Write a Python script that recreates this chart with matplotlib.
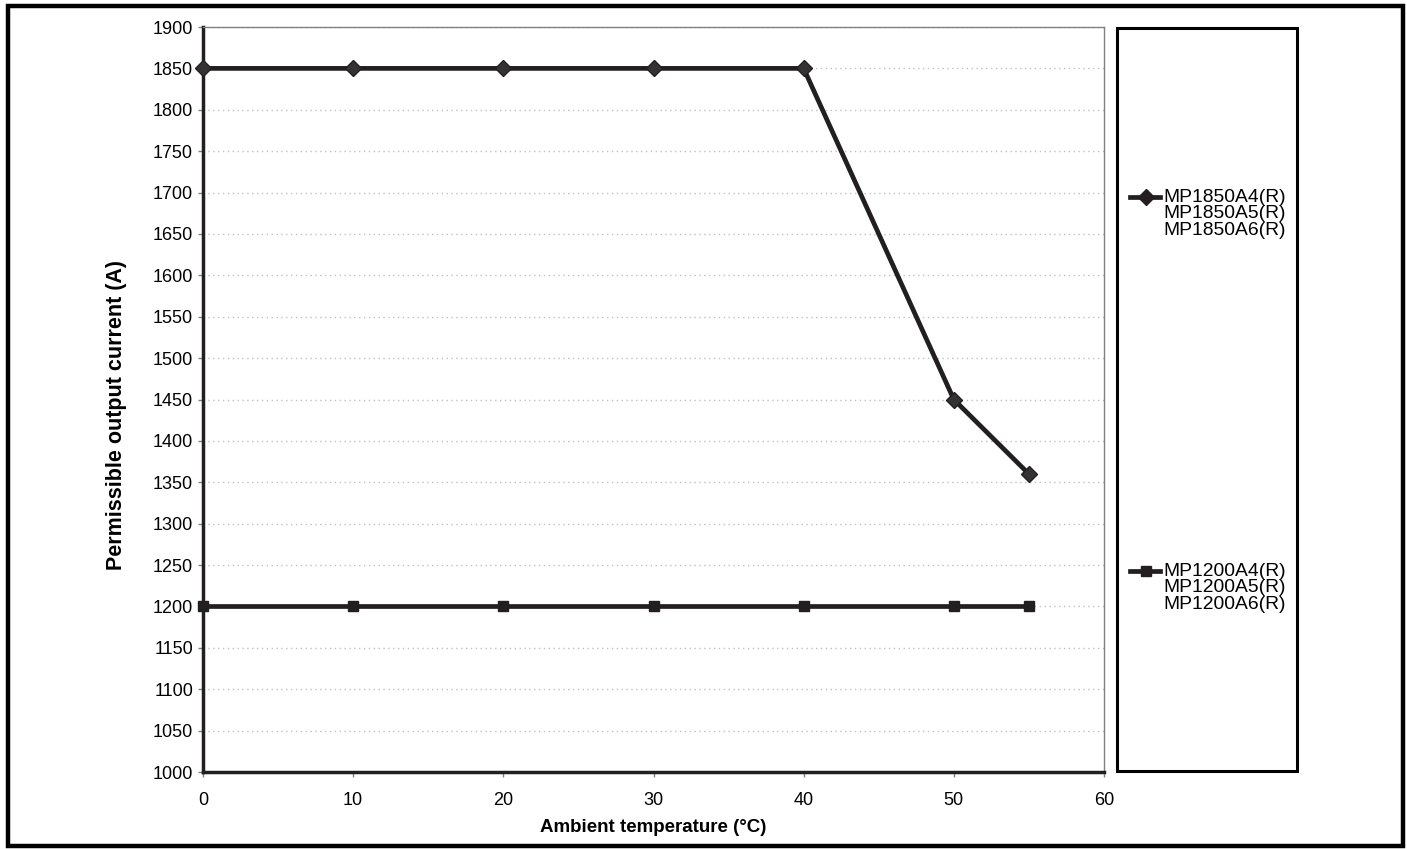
import numpy as np
import matplotlib
matplotlib.use("Agg")
import matplotlib.pyplot as plt
from matplotlib.lines import Line2D
from matplotlib.patches import Rectangle

plt.rcParams['font.family'] = ['Liberation Sans', 'DejaVu Sans']

# data
temps = [0, 10, 20, 30, 40, 50, 55]
current_1850 = [1850, 1850, 1850, 1850, 1850, 1450, 1360]
current_1200 = [1200, 1200, 1200, 1200, 1200, 1200, 1200]
labels_1850 = ['MP1850A4(R)', 'MP1850A5(R)', 'MP1850A6(R)']
labels_1200 = ['MP1200A4(R)', 'MP1200A5(R)', 'MP1200A6(R)']
xticks = range(0, 61, 10)
yticks = range(1000, 1901, 50)

W, H = 1407, 849
fig = plt.figure(figsize=(W / 100, H / 100), dpi=100)
ax = fig.add_axes([203 / W, 1 - 772 / H, (1104 - 203) / W, (772 - 27) / H])

dark = '#231f20'
ax.plot(temps, current_1850, color=dark, lw=3.4, marker='D', ms=8.5,
        mfc='#333333', mec=dark, zorder=5, clip_on=False)
ax.plot(temps, current_1200, color=dark, lw=3.4, marker='s', ms=7.5,
        mfc=dark, mec=dark, zorder=5, clip_on=False)

ax.set_xlim(0, 60)
ax.set_ylim(1000, 1900)
ax.set_xticks(list(xticks))
ax.set_yticks(list(yticks))
ax.tick_params(axis='both', direction='out', length=3.6, width=1, color='#808080',
               labelsize=13)
ax.tick_params(axis='x', pad=10.5)
ax.tick_params(axis='y', pad=3.6)
ax.grid(axis='y', color='#c0c0c0', lw=1, linestyle=(0, (1, 2.5)))
ax.set_axisbelow(True)

for side in ['top', 'right']:
    ax.spines[side].set_color('#808080')
    ax.spines[side].set_linewidth(1)
ax.spines['left'].set_color(dark)
ax.spines['left'].set_linewidth(2.5)
ax.spines['bottom'].set_color(dark)
ax.spines['bottom'].set_linewidth(2.5)

fig.text(117 / W, 1 - 415 / H, 'Permissible output current (A)', rotation=90,
         ha='center', va='center', fontsize=15.5, fontweight='bold')
fig.text(653 / W, 1 - 828 / H, 'Ambient temperature (°C)',
         ha='center', va='center', fontsize=13.5, fontweight='bold')

# legend box on the right
fig.add_artist(Rectangle((1117 / W, 1 - 771 / H), (1297 - 1117) / W, (771 - 28) / H,
                         transform=fig.transFigure, fill=False, ec='black', lw=2.2))


def legend_entry(y, marker, ms, lines):
    fig.add_artist(Line2D([1130 / W, 1160 / W], [1 - y / H, 1 - y / H],
                          transform=fig.transFigure, color=dark, lw=3.4))
    fig.add_artist(Line2D([1146 / W], [1 - y / H], transform=fig.transFigure,
                          color=dark, marker=marker, ms=ms, mfc=dark, mec=dark))
    for i, txt in enumerate(lines):
        fig.text(1163 / W, 1 - (y + i * 16.7) / H, txt, ha='left', va='center',
                 fontsize=13.9)


legend_entry(197, 'D', 8, labels_1850)
legend_entry(571, 's', 7.5, labels_1200)

# outer page frame
fig.add_artist(Rectangle((8 / W, 1 - 846 / H), (1403 - 8) / W, (846 - 6) / H,
                         transform=fig.transFigure, fill=False, ec='black', lw=3.2))

fig.savefig('out.png', dpi=100)
